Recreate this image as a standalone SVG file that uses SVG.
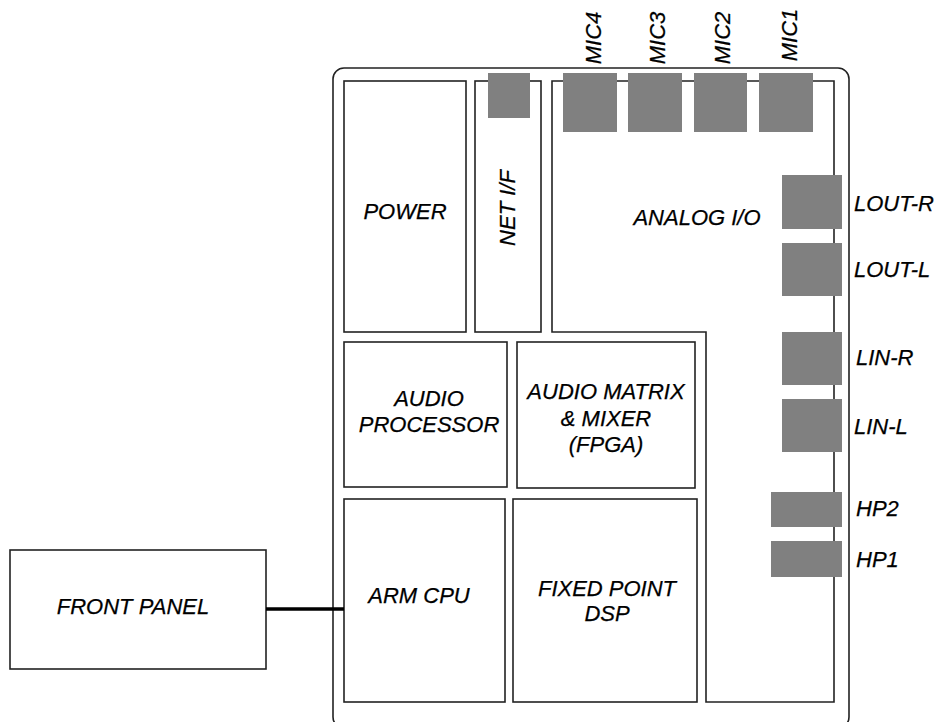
<svg xmlns="http://www.w3.org/2000/svg" width="934" height="722" viewBox="0 0 934 722">
<style>
.box{fill:#fff;stroke:#222;stroke-width:1.6}
.port{fill:#808080;stroke:none}
.t{font-family:"Liberation Sans",Arial,sans-serif;font-style:italic;font-size:22px;fill:#000;stroke:#000;stroke-width:0.25}
.c{text-anchor:middle}
.conn{stroke:#000;stroke-width:3.5;fill:none}
</style>
<rect x="0" y="0" width="934" height="722" fill="#fff"/>
<g id="chassis"><rect x="333" y="68" width="516" height="660" rx="11" ry="11" class="box"/></g>
<g id="power"><rect x="344" y="81" width="122" height="251" class="box"/><text x="405" y="219" class="t c">POWER</text></g>
<g id="netif"><rect x="475" y="81" width="66" height="251" class="box"/><rect x="488" y="73" width="42" height="45" class="port"/><text transform="translate(515,208) rotate(-90)" class="t c">NET I/F</text></g>
<g id="analog"><path d="M552,81 H834 V702 H706 V332 H552 Z" class="box"/><text x="697" y="225" class="t c">ANALOG I/O</text></g>
<g id="mic4"><rect x="563" y="73" width="54" height="59" class="port"/><text transform="translate(601,38) rotate(-90)" class="t c">MIC4</text></g>
<g id="mic3"><rect x="628" y="73" width="54" height="59" class="port"/><text transform="translate(665,38) rotate(-90)" class="t c">MIC3</text></g>
<g id="mic2"><rect x="694" y="73" width="53" height="59" class="port"/><text transform="translate(730,38) rotate(-90)" class="t c">MIC2</text></g>
<g id="mic1"><rect x="759" y="73" width="54" height="59" class="port"/><text transform="translate(797,35) rotate(-90)" class="t c">MIC1</text></g>
<g id="lout-r"><rect x="782" y="175" width="60" height="54" class="port"/><text x="854" y="211" class="t">LOUT-R</text></g>
<g id="lout-l"><rect x="782" y="243" width="60" height="53" class="port"/><text x="854" y="277" class="t">LOUT-L</text></g>
<g id="lin-r"><rect x="782" y="332" width="60" height="53" class="port"/><text x="856" y="365" class="t">LIN-R</text></g>
<g id="lin-l"><rect x="782" y="399" width="60" height="53" class="port"/><text x="854" y="434" class="t">LIN-L</text></g>
<g id="hp2"><rect x="771" y="492" width="71" height="35" class="port"/><text x="856" y="516" class="t">HP2</text></g>
<g id="hp1"><rect x="771" y="541" width="71" height="36" class="port"/><text x="856" y="567" class="t">HP1</text></g>
<g id="audioproc"><rect x="344" y="342" width="163" height="145" class="box"/><text x="429" y="406" class="t c">AUDIO</text><text x="429" y="432" class="t c">PROCESSOR</text></g>
<g id="matrix"><rect x="517" y="342" width="178" height="146" class="box"/><text x="606" y="399" class="t c">AUDIO MATRIX</text><text x="606" y="426" class="t c">&amp; MIXER</text><text x="606" y="452" class="t c">(FPGA)</text></g>
<g id="armcpu"><rect x="344" y="499" width="161" height="203" class="box"/><text x="419" y="603" class="t c">ARM CPU</text></g>
<g id="dsp"><rect x="513" y="499" width="184" height="203" class="box"/><text x="607" y="596" class="t c">FIXED POINT</text><text x="607" y="621" class="t c">DSP</text></g>
<g id="frontpanel"><rect x="10" y="550" width="256" height="119" class="box"/><text x="133" y="614" class="t c">FRONT PANEL</text></g>
<g id="connectors"><line x1="266" y1="609" x2="344" y2="609" class="conn"/></g>
</svg>
